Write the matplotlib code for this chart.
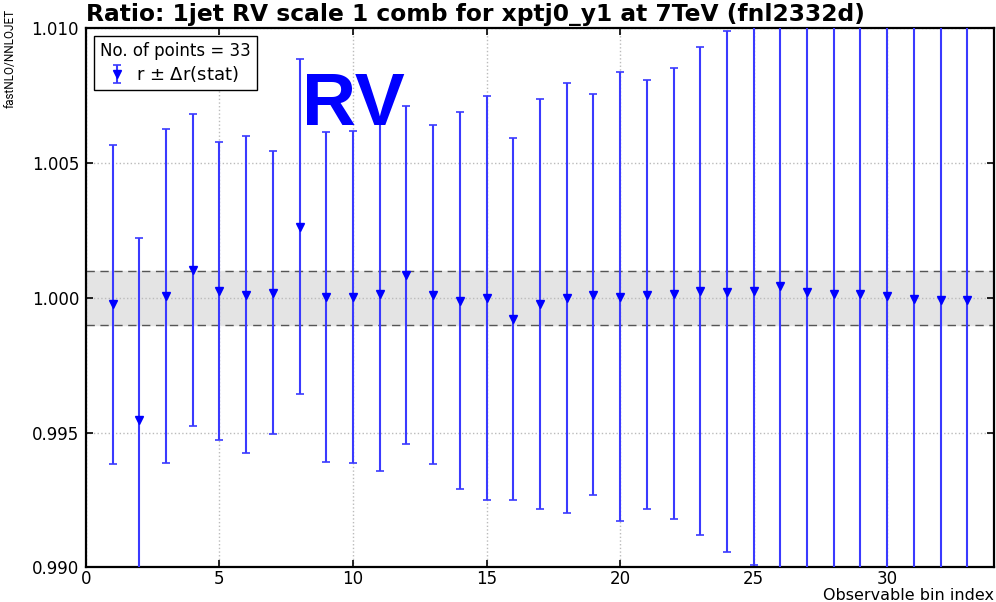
import numpy as np
import matplotlib
matplotlib.use("Agg")
import matplotlib.pyplot as plt

# ratio fastNLO / NNLOJET per observable bin with statistical uncertainty
bins = np.arange(1, 34)
ratio = [0.99975, 0.99546, 1.00005, 1.00103, 1.00025, 1.00011, 1.00019, 1.00264,
         1.00002, 1.00002, 1.00012, 1.00084, 1.00011, 0.99988, 0.99999, 0.99920,
         0.99976, 1.00000, 1.00011, 1.00003, 1.00011, 1.00014, 1.00024, 1.00022,
         1.00026, 1.00043, 1.00020, 1.00015, 1.00014, 1.00006, 0.99996, 0.99991,
         0.99991]
dratio = [0.00592, 0.00675, 0.00619, 0.00580, 0.00554, 0.00588, 0.00524, 0.00623,
          0.00611, 0.00615, 0.00655, 0.00627, 0.00628, 0.00699, 0.00750, 0.00671,
          0.00760, 0.00798, 0.00744, 0.00833, 0.00795, 0.00836, 0.00904, 0.00966,
          0.01017, 0.01080, 0.01150, 0.01210, 0.01280, 0.01360, 0.01450, 0.01540,
          0.01630]
band_lo, band_hi = 0.999, 1.001

plt.rcParams['font.family'] = ['DejaVu Sans']
fig = plt.figure(figsize=(9.96, 6.02), dpi=100)
ax = fig.add_axes([0.0863, 0.0576, 0.9117, 0.8958])

ax.axhspan(band_lo, band_hi, color='#e4e4e4', zorder=0)
ax.axhline(band_lo, color='#555555', ls='--', lw=1.0, dashes=(6, 4), zorder=1)
ax.axhline(band_hi, color='#555555', ls='--', lw=1.0, dashes=(6, 4), zorder=1)

ax.errorbar(bins, ratio, yerr=dratio, fmt='v', color='#0000ff', ecolor='#3a3aff',
            elinewidth=1.5, capsize=3, capthick=1.2, markersize=6,
            label=r'r $\pm$ $\Delta$r(stat)', zorder=3)

ax.set_xlim(0, 34)
ax.set_ylim(0.990, 1.010)
ax.set_xticks([0, 5, 10, 15, 20, 25, 30])
ax.set_yticks([0.990, 0.995, 1.000, 1.005, 1.010])
ax.yaxis.set_major_formatter(matplotlib.ticker.FormatStrFormatter('%.3f'))
ax.grid(True, color='#bbbbbb', ls=':', lw=1.0)
ax.tick_params(direction='in', top=True, right=True, length=5, width=1.2,
               labelsize=12, pad=5)
ax.tick_params(axis='x', pad=2)
for s in ax.spines.values():
    s.set_linewidth(1.6)

ax.set_title('Ratio: 1jet RV scale 1 comb for xptj0_y1 at 7TeV (fnl2332d)',
             loc='left', fontsize=16.8, fontweight='bold', pad=5)
ax.set_ylabel('fastNLO/NNLOJET', family=['Roboto', 'DejaVu Sans'], fontsize=8.5)
ax.yaxis.set_label_coords(-0.076, 0.944)
ax.set_xlabel('Observable bin index', fontsize=11.5, labelpad=0)
ax.xaxis.set_label_coords(1.0, -0.0375)
ax.xaxis.label.set_horizontalalignment('right')
ax.xaxis.label.set_verticalalignment('top')

leg = ax.legend(loc='upper left', title='No. of points = %d' % len(bins),
                fontsize=13, title_fontsize=12, fancybox=False, framealpha=1,
                edgecolor='black', handlelength=0.5, handletextpad=0.8,
                borderpad=0.35, labelspacing=0.2, borderaxespad=0.45)
leg.get_frame().set_linewidth(1.0)

ax.text(0.238, 0.82, 'RV', transform=ax.transAxes, color='#0000ff',
        fontsize=54, fontweight='bold', family=['Liberation Sans', 'DejaVu Sans'],
        zorder=5)

fig.savefig('out.png', dpi=100)
